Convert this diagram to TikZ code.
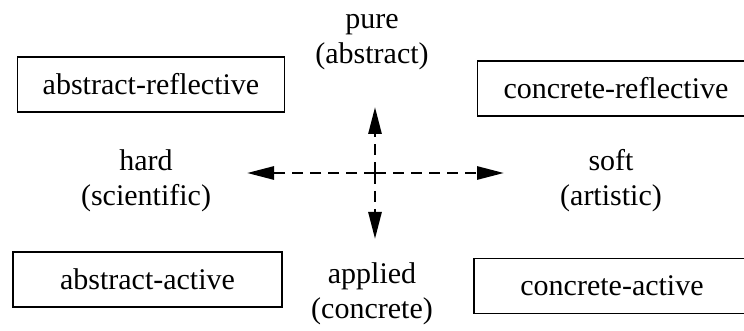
\documentclass[tikz,border=0pt]{standalone}
\usepackage{fontspec}
\setmainfont{Liberation Serif}
\usetikzlibrary{arrows.meta}

\begin{document}
\begin{tikzpicture}[x=1pt,y=-1pt,
    every node/.style={font=\fontsize{30}{35}\selectfont},
    quadbox/.style={draw,line width=1.8pt,minimum height=55pt,inner sep=0pt},
    axislabel/.style={align=center,anchor=base},
    axisarrow/.style={line width=2.8pt,dash pattern=on 11pt off 7pt,
      -{Triangle[length=27pt,width=13pt]}}]
  \useasboundingbox (0,0) rectangle (744,331);
  \clip (0,0) rectangle (744,331);

  \node[quadbox,minimum width=267pt] (absrefl) at (151,84.5) {abstract-reflective};
  \node[quadbox,minimum width=277pt] (conrefl) at (616,88.5) {concrete-reflective};
  \node[quadbox,minimum width=269pt] (absact) at (147.5,279.5) {abstract-active};
  \node[quadbox,minimum width=276pt] (conact) at (612,286) {concrete-active};

  % base anchor sits on the last line
  \node[axislabel] (pure) at (372,64) {pure\\(abstract)};
  \node[axislabel] (hard) at (146,206) {hard\\(scientific)};
  \node[axislabel] (soft) at (611,206) {soft\\(artistic)};
  \node[axislabel] (applied) at (372,318) {applied\\(concrete)};

  \coordinate (origin) at (375,173);
  \coordinate (uptip) at (375,107);
  \coordinate (downtip) at (375,239);
  \coordinate (lefttip) at (247,173);
  \coordinate (righttip) at (504,173);

  \draw[axisarrow] (origin) -- (uptip);
  \draw[axisarrow] (origin) -- (downtip);
  \draw[axisarrow] (origin) -- (lefttip);
  \draw[axisarrow] (origin) -- (righttip);

\end{tikzpicture}
\end{document}
